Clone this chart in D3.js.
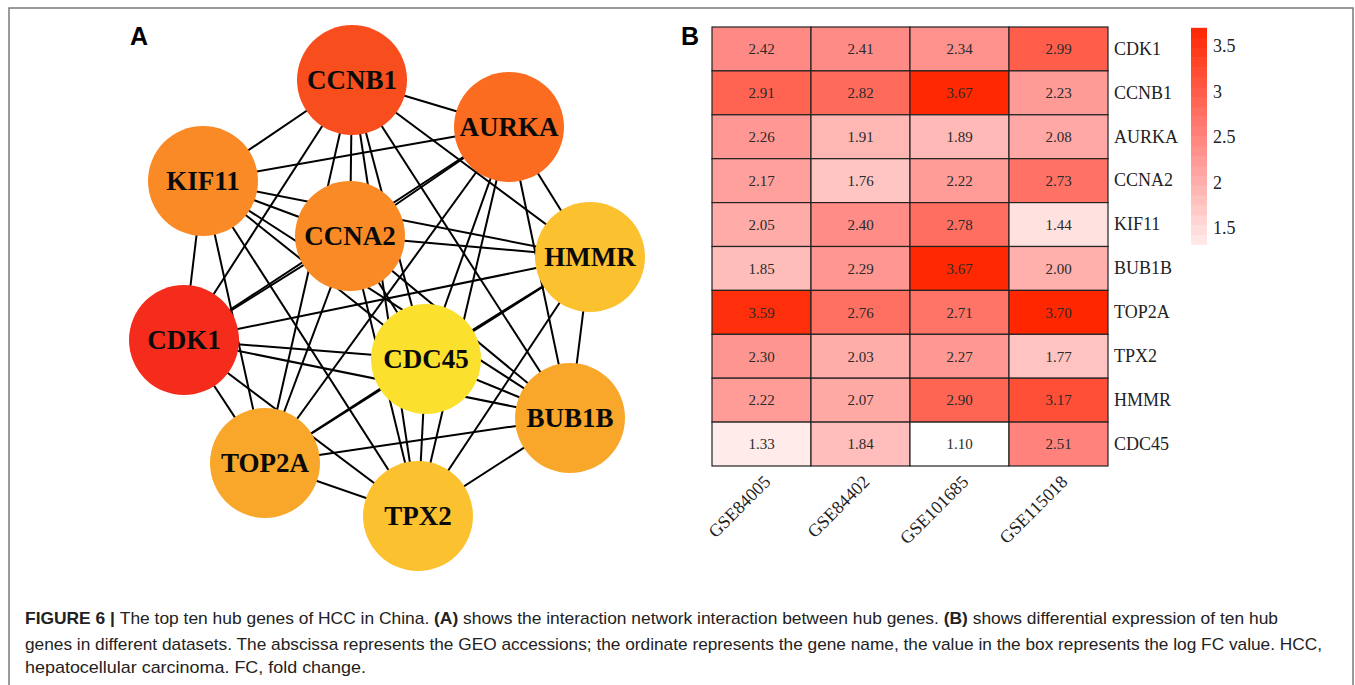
<!DOCTYPE html>
<html>
<head>
<meta charset="utf-8">
<script src="https://cdn.jsdelivr.net/npm/d3@7/dist/d3.min.js"></script>
<style>
  html, body { margin: 0; padding: 0; background: #fff; }
  svg { display: block; }
</style>
</head>
<body>
<svg id="fig" width="1355" height="685"></svg>
<script>
// ---- Panel A: hub-gene interaction network ----
const netGenes = ["CCNB1", "AURKA", "KIF11", "CCNA2", "HMMR", "CDK1", "CDC45", "BUB1B", "TOP2A", "TPX2"];
// hub rank tier (0 = highest score)
const netTier = [1, 2, 3, 3, 5, 0, 6, 4, 4, 5];
const tierColors = ["#f52c1c", "#f84e1d", "#fb6c21", "#f98a25", "#f9a72a", "#fcc12e", "#fbe02e"];
// node layout in network units
const netLayoutX = [352, 509, 203, 350, 590, 184, 426, 570, 265, 418];
const netLayoutY = [80, 127, 181, 236, 257, 340, 359, 418, 463, 516];
// interaction edges
const netEdges = [
  ["CCNB1","AURKA"],["CCNB1","KIF11"],["CCNB1","CCNA2"],["CCNB1","HMMR"],["CCNB1","CDK1"],
  ["CCNB1","CDC45"],["CCNB1","BUB1B"],["CCNB1","TOP2A"],["CCNB1","TPX2"],
  ["AURKA","KIF11"],["AURKA","CCNA2"],["AURKA","HMMR"],["AURKA","CDK1"],["AURKA","CDC45"],
  ["AURKA","BUB1B"],["AURKA","TOP2A"],["AURKA","TPX2"],
  ["KIF11","CCNA2"],["KIF11","HMMR"],["KIF11","CDK1"],["KIF11","CDC45"],["KIF11","BUB1B"],
  ["KIF11","TOP2A"],["KIF11","TPX2"],
  ["CCNA2","HMMR"],["CCNA2","CDK1"],["CCNA2","CDC45"],["CCNA2","BUB1B"],["CCNA2","TOP2A"],["CCNA2","TPX2"],
  ["HMMR","CDK1"],["HMMR","CDC45"],["HMMR","BUB1B"],["HMMR","TOP2A"],["HMMR","TPX2"],
  ["CDK1","CDC45"],["CDK1","BUB1B"],["CDK1","TOP2A"],["CDK1","TPX2"],
  ["CDC45","BUB1B"],["CDC45","TOP2A"],["CDC45","TPX2"],
  ["BUB1B","TOP2A"],["BUB1B","TPX2"],
  ["TOP2A","TPX2"]
];

// ---- Panel B: log FC heatmap ----
const datasets = ["GSE84005", "GSE84402", "GSE101685", "GSE115018"];
const heatGenes = ["CDK1", "CCNB1", "AURKA", "CCNA2", "KIF11", "BUB1B", "TOP2A", "TPX2", "HMMR", "CDC45"];
const fcGSE84005  = [2.42, 2.91, 2.26, 2.17, 2.05, 1.85, 3.59, 2.30, 2.22, 1.33];
const fcGSE84402  = [2.41, 2.82, 1.91, 1.76, 2.40, 2.29, 2.76, 2.03, 2.07, 1.84];
const fcGSE101685 = [2.34, 3.67, 1.89, 2.22, 2.78, 3.67, 2.71, 2.27, 2.90, 1.10];
const fcGSE115018 = [2.99, 2.23, 2.08, 2.73, 1.44, 2.00, 3.70, 1.77, 3.17, 2.51];
const legendTicks = [1.5, 2, 2.5, 3, 3.5];
const legendRange = [1.32, 3.70];

const captionLines = [
  [["FIGURE 6 | ", true], ["The top ten hub genes of HCC in China. ", false], ["(A)", true],
   [" shows the interaction network interaction between hub genes. ", false], ["(B)", true],
   [" shows differential expression of ten hub", false]],
  [["genes in different datasets. The abscissa represents the GEO accessions; the ordinate represents the gene name, the value in the box represents the log FC value. HCC,", false]],
  [["hepatocellular carcinoma. FC, fold change.", false]]
];

const svg = d3.select("#fig");

// outer frame
svg.append("path")
  .attr("d", "M9,685 L9,8 L1353,8 L1353,685")
  .attr("fill", "none").attr("stroke", "#7a7a7a").attr("stroke-width", 1.5);

// ---------- Network ----------
const nx = d3.scaleLinear().domain([0, 1]).range([0, 1]);
const ny = d3.scaleLinear().domain([0, 1]).range([0, 1]);
const nodes = netGenes.map((g, i) => ({ id: g, x: nx(netLayoutX[i]), y: ny(netLayoutY[i]), tier: netTier[i] }));
const byId = new Map(nodes.map(n => [n.id, n]));
const nodeColor = d3.scaleOrdinal().domain(d3.range(tierColors.length)).range(tierColors);
const R = 55;

const gNet = svg.append("g");
gNet.selectAll("line.edge").data(netEdges).join("line")
  .attr("class", "edge")
  .attr("x1", d => byId.get(d[0]).x).attr("y1", d => byId.get(d[0]).y)
  .attr("x2", d => byId.get(d[1]).x).attr("y2", d => byId.get(d[1]).y)
  .attr("stroke", "#000").attr("stroke-width", 2);

const gNodes = gNet.selectAll("g.node").data(nodes).join("g")
  .attr("class", "node")
  .attr("transform", d => `translate(${d.x},${d.y})`);
gNodes.append("circle").attr("r", R).attr("fill", d => nodeColor(d.tier));
gNodes.append("text")
  .attr("text-anchor", "middle").attr("dy", "0.35em")
  .attr("font-family", "'Liberation Serif', 'Times New Roman', serif")
  .attr("font-weight", "bold").attr("font-size", 27).attr("fill", "#0a0a0a")
  .text(d => d.id);

// panel letters
svg.append("text").attr("x", 130).attr("y", 45).text("A")
  .attr("font-family", "'Liberation Sans', Arial, sans-serif").attr("font-weight", "bold").attr("font-size", 25);
svg.append("text").attr("x", 681).attr("y", 45).text("B")
  .attr("font-family", "'Liberation Sans', Arial, sans-serif").attr("font-weight", "bold").attr("font-size", 25);

// ---------- Heatmap ----------
const fcByDataset = [fcGSE84005, fcGSE84402, fcGSE101685, fcGSE115018];
const cells = [];
datasets.forEach((ds, j) => heatGenes.forEach((g, i) => cells.push({ ds, g, v: fcByDataset[j][i] })));

const x = d3.scaleBand().domain(datasets).range([712, 1108]);
const y = d3.scaleBand().domain(heatGenes).range([27, 466]);
const allVals = cells.map(c => c.v);
const vMin = d3.min(allVals), vMax = d3.max(allVals);
const color = d3.scaleLinear()
  .domain([vMin, (vMin + vMax) / 2, vMax])
  .range(["#ffffff", "#ff8c87", "#ff2600"])
  .interpolate(d3.interpolateRgb);

const gHeat = svg.append("g");
gHeat.selectAll("rect.cell").data(cells).join("rect")
  .attr("class", "cell")
  .attr("x", d => x(d.ds)).attr("y", d => y(d.g))
  .attr("width", x.bandwidth()).attr("height", y.bandwidth())
  .attr("fill", d => color(d.v))
  .attr("stroke", "#222").attr("stroke-width", 1.2);
gHeat.selectAll("text.val").data(cells).join("text")
  .attr("class", "val")
  .attr("x", d => x(d.ds) + x.bandwidth() / 2)
  .attr("y", d => y(d.g) + y.bandwidth() / 2)
  .attr("dy", "0.35em").attr("text-anchor", "middle")
  .attr("font-family", "'Liberation Serif', 'Times New Roman', serif")
  .attr("font-size", 15).attr("fill", "#2a2a2a")
  .text(d => d.v.toFixed(2));

// row labels (right axis)
const yAxis = d3.axisRight(y).tickSize(0).tickPadding(6);
const gy = svg.append("g").attr("transform", "translate(1108,0)").call(yAxis);
gy.select(".domain").remove();
gy.selectAll("text")
  .attr("font-family", "'Liberation Serif', 'Times New Roman', serif")
  .attr("font-size", 18).attr("fill", "#222");

// column labels (rotated bottom axis)
const xAxis = d3.axisBottom(x).tickSize(0).tickPadding(0);
const gx = svg.append("g").attr("transform", "translate(0,466)").call(xAxis);
gx.select(".domain").remove();
gx.selectAll("text")
  .attr("font-family", "'Liberation Serif', 'Times New Roman', serif")
  .attr("font-size", 18).attr("fill", "#222")
  .attr("text-anchor", "end")
  .attr("dy", 0)
  .attr("transform", "translate(10,17) rotate(-45)")
  .attr("y", 0);

// colour legend (banded bar)
const ly = d3.scaleLinear().domain([1.5, 3.5]).range([228, 46]);
const nBands = 22;
const bandStep = (legendRange[1] - legendRange[0]) / nBands;
const bands = d3.range(nBands).map(k => legendRange[0] + k * bandStep);
svg.append("g").selectAll("rect").data(bands).join("rect")
  .attr("x", 1191).attr("width", 16)
  .attr("y", d => ly(d + bandStep))
  .attr("height", d => ly(d) - ly(d + bandStep) + 0.5)
  .attr("fill", d => color(d + bandStep / 2));
const gl = svg.append("g").attr("transform", "translate(1207,0)")
  .call(d3.axisRight(ly).tickValues(legendTicks).tickSize(0).tickPadding(6).tickFormat(d3.format("")));
gl.select(".domain").remove();
gl.selectAll("text")
  .attr("font-family", "'Liberation Serif', 'Times New Roman', serif")
  .attr("font-size", 18).attr("fill", "#222");

// ---------- Caption ----------
const capY = [624, 650, 673];
const capW = [1253, 1297, 341];
captionLines.forEach((parts, i) => {
  const t = svg.append("text")
    .attr("x", 25).attr("y", capY[i])
    .attr("font-family", "'Liberation Sans', Arial, sans-serif")
    .attr("font-size", 17).attr("fill", "#222")
    .attr("textLength", capW[i]).attr("lengthAdjust", "spacingAndGlyphs");
  parts.forEach(([s, b]) => {
    t.append("tspan").attr("font-weight", b ? "bold" : "normal").text(s);
  });
});
</script>
</body>
</html>
